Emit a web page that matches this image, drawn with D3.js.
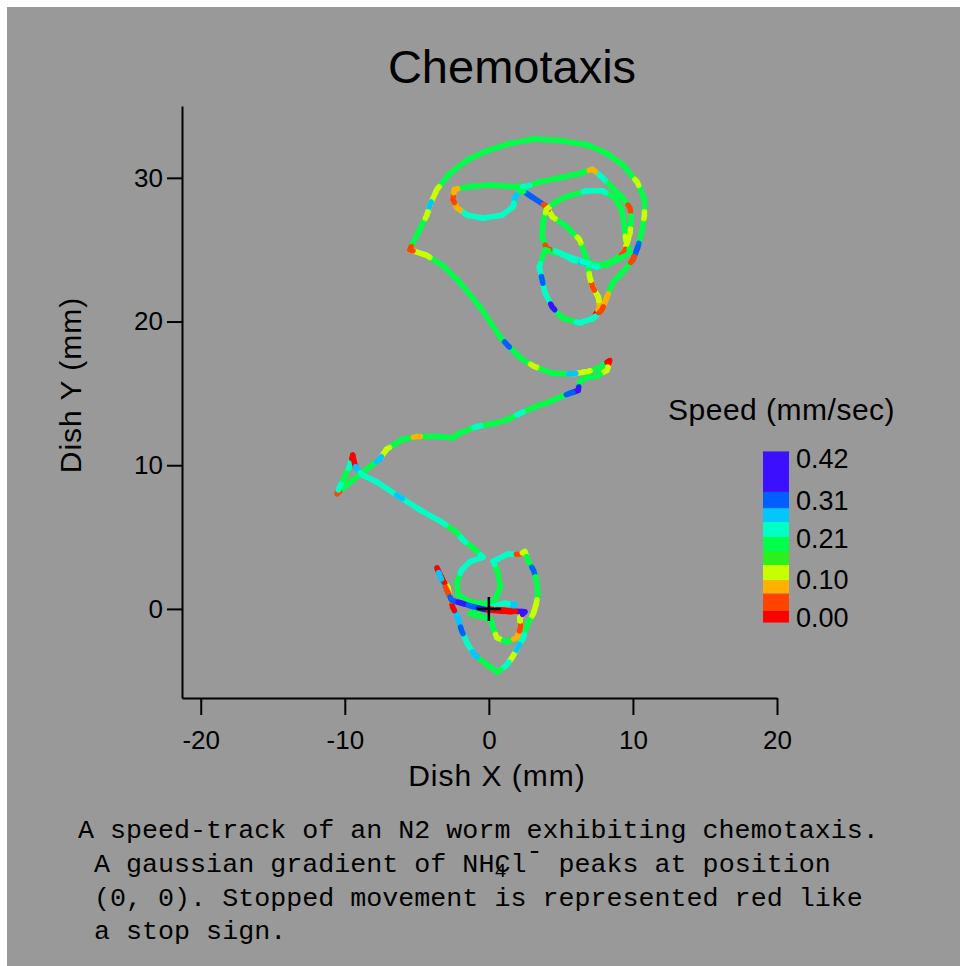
<!DOCTYPE html>
<html>
<head>
<meta charset="utf-8">
<script src="https://cdn.jsdelivr.net/npm/d3@7"></script>
<style>
  body { margin: 0; background: #fff; }
  svg text { font-family: "Liberation Sans", Arial, sans-serif; fill: #000; }
  .caption text { font-family: "Liberation Mono", "DejaVu Sans Mono", monospace; white-space: pre; }
</style>
</head>
<body>
<svg id="chart"></svg>
<script>
// worm track, dish coordinates in mm, speed in mm/sec
const trackX = [7.4, 7.7, 7.6, 7.2, 7.0, 6.8, 6.3, 5.4, 4.4, 4.0,
  2.8, 2.2, 1.8, 1.7, 0.9, -0.4, -1.5, -2.2, -2.5, -2.4,
  -1.3, 0.1, 1.5, 2.6, 3.5, 4.9, 6.3, 7.2, 7.9, 8.6,
  9.3, 9.8, 9.9, 9.8, 9.6, 9.4, 8.6, 7.5, 6.5, 5.8,
  4.9, 4.0, 3.7, 3.75, 4.0, 4.6, 5.4, 6.8, 7.9, 8.75,
  9.2, 9.4, 9.5, 9.8, 9.1, 8.1, 6.7, 5.3, 3.9, 3.5,
  3.7, 3.9, 4.4, 5.1, 6.3, 7.2, 7.85, 8.2, 8.6, 9.3,
  10.0, 10.35, 10.6, 10.8, 10.8, 10.3, 9.3, 8.2, 6.8, 4.9,
  3.1, 1.5, -0.1, -1.5, -2.7, -3.6, -4.1, -4.3, -4.8, -5.5,
  -4.3, -3.2, -2.0, -0.6, 0.8, 1.25, 2.15, 3.1, 4.4, 5.8,
  6.8, 7.7, 8.4, 8.2, 7.5, 6.8, 6.3, 6.2, 5.6, 4.4,
  3.3, 2.15, 1.25, 0.3, -0.8, -2.0, -2.5, -3.4, -4.3, -5.0,
  -6.0, -7.1, -7.6, -8.75, -9.65, -10.55, -10.35, -10.0, -9.65, -9.45,
  -9.3, -9.2, -8.75, -7.8, -6.2, -4.8, -3.2, -2.2, -1.8, -1.1,
  -0.4, -1.3, -1.9, -2.2, -2.15, -1.3, -0.3, 0.4, 0.8, 0.6,
  0.3, 1.25, 2.15, 2.5, 2.7, 3.1, 3.3, 3.4, 3.3, 3.1,
  2.7, 2.4, 2.0, 1.6, 1.25, 0.6, -0.1, -1.0, -1.5, -1.9,
  -2.15, -2.5, -2.7, -2.85, -3.2, -3.6, -3.4, -2.9, -2.6, -1.9,
  -1.2, -0.5, 0.2, 0.9, 1.6, 1.8, 1.1, 0.4, -1.3, 0.1,
  0.3, 0.55, 1.25, 1.95, 2.2, 2.15, 2.5, 1.6, 0.8, 0.0];

const trackY = [20.5, 21.0, 21.7, 22.4, 23.1, 24.3, 25.7, 26.6, 27.3, 28.0,
  28.8, 29.2, 28.6, 28.0, 27.4, 27.2, 27.4, 27.9, 28.5, 29.2,
  29.4, 29.5, 29.4, 29.4, 29.7, 30.0, 30.3, 30.6, 30.0, 29.3,
  28.6, 27.9, 27.1, 26.2, 25.5, 24.8, 24.2, 23.8, 24.1, 24.3,
  24.8, 25.1, 25.9, 26.9, 27.8, 28.3, 28.7, 29.1, 29.1, 28.6,
  27.8, 26.7, 25.7, 24.8, 24.4, 23.9, 24.1, 24.6, 25.0, 23.8,
  22.9, 22.0, 21.0, 20.25, 19.9, 20.2, 20.8, 21.7, 22.7, 23.45,
  24.3, 25.2, 26.2, 27.4, 28.5, 29.7, 30.9, 31.7, 32.3, 32.6,
  32.7, 32.4, 31.9, 31.25, 30.3, 29.2, 28.1, 27.4, 26.4, 25.0,
  24.6, 23.9, 22.7, 21.0, 18.9, 18.4, 17.5, 16.9, 16.4, 16.35,
  16.5, 16.8, 17.3, 16.6, 16.2, 16.1, 15.8, 15.2, 15.0, 14.5,
  14.1, 13.6, 13.15, 12.9, 12.7, 12.25, 11.9, 12.0, 12.0, 12.0,
  11.8, 11.1, 10.4, 9.5, 8.8, 8.0, 8.5, 9.2, 10.0, 10.7,
  10.0, 9.8, 9.3, 8.85, 7.8, 6.9, 6.0, 5.3, 4.8, 4.25,
  3.6, 3.3, 2.7, 1.9, 1.0, 0.5, 0.35, 0.6, 1.5, 2.6,
  3.3, 3.8, 3.8, 4.0, 3.4, 2.7, 2.0, 1.1, 0.4, -0.3,
  -1.0, -2.0, -2.7, -3.4, -3.9, -4.4, -3.9, -3.2, -2.4, -1.5,
  -0.6, 0.1, 0.8, 1.5, 2.0, 2.85, 2.3, 1.3, 0.6, 0.4,
  0.2, 0.0, -0.1, -0.15, -0.2, 0.3, 0.4, 0.2, -0.35, -0.7,
  -1.3, -2.0, -2.3, -2.0, -1.3, -0.6, -0.2, -0.15, -0.07, 0.0];

const trackSpeed = [0.0, 0.08, 0.12, 0.06, 0.12, 0.19, 0.13, 0.19, 0.12, 0.02,
  0.31, 0.19, 0.27, 0.23, 0.23, 0.24, 0.23, 0.08, 0.02, 0.08,
  0.19, 0.19, 0.18, 0.23, 0.19, 0.19, 0.18, 0.08, 0.23, 0.19,
  0.19, 0.05, 0.19, 0.12, 0.13, 0.04, 0.19, 0.23, 0.27, 0.23,
  0.23, 0.02, 0.19, 0.19, 0.12, 0.19, 0.19, 0.23, 0.23, 0.19,
  0.19, 0.18, 0.12, 0.19, 0.19, 0.18, 0.23, 0.23, 0.19, 0.23,
  0.31, 0.23, 0.38, 0.19, 0.23, 0.23, 0.04, 0.07, 0.19, 0.19,
  0.04, 0.31, 0.19, 0.12, 0.19, 0.12, 0.19, 0.18, 0.19, 0.19,
  0.18, 0.19, 0.19, 0.18, 0.19, 0.12, 0.28, 0.12, 0.19, 0.06,
  0.12, 0.19, 0.19, 0.19, 0.18, 0.31, 0.19, 0.12, 0.19, 0.27,
  0.12, 0.19, 0.0, 0.12, 0.19, 0.19, 0.18, 0.36, 0.33, 0.19,
  0.19, 0.23, 0.19, 0.19, 0.23, 0.19, 0.19, 0.19, 0.18, 0.07,
  0.19, 0.13, 0.27, 0.19, 0.19, 0.04, 0.23, 0.19, 0.23, 0.0,
  0.01, 0.27, 0.23, 0.23, 0.28, 0.23, 0.23, 0.19, 0.23, 0.19,
  0.23, 0.23, 0.23, 0.19, 0.19, 0.19, 0.19, 0.19, 0.18, 0.19,
  0.23, 0.23, 0.02, 0.12, 0.19, 0.31, 0.19, 0.19, 0.12, 0.11,
  0.19, 0.23, 0.27, 0.12, 0.23, 0.19, 0.19, 0.27, 0.23, 0.31,
  0.27, 0.0, 0.07, 0.12, 0.01, 0.0, 0.27, 0.02, 0.31, 0.36,
  0.33, 0.36, 0.0, 0.0, 0.01, 0.27, 0.23, 0.23, 0.19, 0.19,
  0.19, 0.12, 0.19, 0.07, 0.02, 0.12, 0.36, 0.0, 0.0, 0.0];

// colour table (speed band edges, mm/sec) and legend labels
const speedEdges = [-0.012, 0.02, 0.065, 0.10, 0.14, 0.175, 0.214, 0.254, 0.29, 0.333, 0.44];
const speedColors = ["#ff0000", "#ff4400", "#ffb000", "#c8ff00", "#2cf01c",
  "#00ff48", "#00ffc4", "#00c8ff", "#0060ff", "#3c10ff"];
const speedTicks = [0.00, 0.10, 0.21, 0.31, 0.42];

const xTicks = [-20, -10, 0, 10, 20];
const yTicks = [0, 10, 20, 30];

const W = 960, H = 966;

const svg = d3.select("#chart")
  .attr("width", W)
  .attr("height", H);

svg.append("rect")
  .attr("x", 7).attr("y", 7)
  .attr("width", W - 7).attr("height", H - 7)
  .attr("fill", "#999999");

const x = d3.scaleLinear().domain([-21.3, 20]).range([182, 777]);
const y = d3.scaleLinear().domain([-6.2, 35]).range([698, 106]);

const color = d3.scaleThreshold()
  .domain(speedEdges.slice(1, -1))
  .range(speedColors);

// title
svg.append("text")
  .attr("x", 512)
  .attr("y", 83)
  .attr("text-anchor", "middle")
  .style("font-size", "47px")
  .text("Chemotaxis");

// axes
const xAxis = svg.append("g")
  .attr("transform", `translate(0,${y.range()[0]})`)
  .call(d3.axisBottom(x).tickValues(xTicks).tickSize(17).tickSizeOuter(0).tickPadding(16));

const yAxis = svg.append("g")
  .attr("transform", `translate(${x.range()[0]},0)`)
  .call(d3.axisLeft(y).tickValues(yTicks).tickSize(15).tickSizeOuter(0).tickPadding(4));

[xAxis, yAxis].forEach(g => {
  g.selectAll("path, line").attr("stroke", "#000").attr("stroke-width", 2);
  g.selectAll("text")
    .style("font-size", "26px")
    .style("font-family", "'Liberation Sans', Arial, sans-serif")
    .attr("fill", "#000");
});
xAxis.selectAll("text").text(d => d < 0 ? "-" + Math.abs(d) : d);

svg.append("text")
  .attr("x", 497)
  .attr("y", 786)
  .attr("text-anchor", "middle")
  .style("font-size", "30px")
  .style("letter-spacing", "1px")
  .text("Dish X (mm)");

svg.append("text")
  .attr("text-anchor", "middle")
  .attr("transform", "translate(81,385) rotate(-90)")
  .style("font-size", "30px")
  .style("letter-spacing", "1px")
  .text("Dish Y (mm)");

// track: line between samples takes the colour of the endpoint nearer the
// typical speed, then each sample is stamped as a short dash in its own colour
const pts = trackX.map((d, i) => [x(d), y(trackY[i])]);
const typical = d3.median(trackSpeed);
const toward = (a, b, len) => {
  const dx = b[0] - a[0], dy = b[1] - a[1];
  const d = Math.hypot(dx, dy) || 1;
  const t = Math.min(len / d, 0.5);
  return [a[0] + dx * t, a[1] + dy * t];
};

const track = svg.append("g")
  .attr("fill", "none")
  .attr("stroke-width", 5.5)
  .attr("stroke-linecap", "round")
  .attr("stroke-linejoin", "round");

track.selectAll("path.seg")
  .data(d3.range(pts.length - 1))
  .join("path")
  .attr("class", "seg")
  .attr("d", i => d3.line()([pts[i], pts[i + 1]]))
  .attr("stroke", i => {
    const a = trackSpeed[i], b = trackSpeed[i + 1];
    return color(Math.abs(a - typical) <= Math.abs(b - typical) ? a : b);
  });

track.selectAll("path.dot")
  .data(pts)
  .join("path")
  .attr("class", "dot")
  .attr("d", (p, i) => {
    const a = i > 0 ? toward(p, pts[i - 1], 3.5) : p;
    const b = i < pts.length - 1 ? toward(p, pts[i + 1], 3.5) : p;
    return d3.line()([a, p, b]);
  })
  .attr("stroke", (p, i) => color(trackSpeed[i]));

// peak marker at (0, 0)
const cx = x(0), cy = y(0);
svg.append("path")
  .attr("d", `M${cx - 12},${cy}H${cx + 12}M${cx},${cy - 12}V${cy + 12}`)
  .attr("stroke", "#000")
  .attr("stroke-width", 2.5);

// legend
const ly = d3.scaleLinear().domain([0, 0.42]).range([618, 459]);

svg.append("text")
  .attr("x", 668)
  .attr("y", 420)
  .style("font-size", "30px")
  .style("letter-spacing", "0.5px")
  .text("Speed (mm/sec)");

svg.append("g")
  .selectAll("rect")
  .data(speedColors)
  .join("rect")
  .attr("x", 763)
  .attr("width", 26)
  .attr("y", (c, i) => ly(speedEdges[i + 1]))
  .attr("height", (c, i) => ly(speedEdges[i]) - ly(speedEdges[i + 1]))
  .attr("fill", c => c);

svg.append("g")
  .selectAll("text")
  .data(speedTicks)
  .join("text")
  .attr("x", 796)
  .attr("y", d => ly(d) + 9)
  .style("font-size", "27px")
  .text(d => d.toFixed(2));

// caption
const cap = svg.append("g").attr("class", "caption").style("font-size", "26.7px");

cap.append("text").attr("x", 78).attr("y", 838)
  .text("A speed-track of an N2 worm exhibiting chemotaxis.");

const l2 = cap.append("text").attr("x", 78).attr("y", 872);
l2.append("tspan").text(" A gaussian gradient of NH");
l2.append("tspan").attr("dy", 5).style("font-size", "20px").text("4");
l2.append("tspan").attr("dx", -12).attr("dy", -5).text("Cl");
l2.append("tspan").attr("dy", -13).text("-");
l2.append("tspan").attr("dy", 13).text(" peaks at position");

cap.append("text").attr("x", 78).attr("y", 906)
  .text(" (0, 0). Stopped movement is represented red like");

cap.append("text").attr("x", 78).attr("y", 939)
  .text(" a stop sign.");
</script>
</body>
</html>
